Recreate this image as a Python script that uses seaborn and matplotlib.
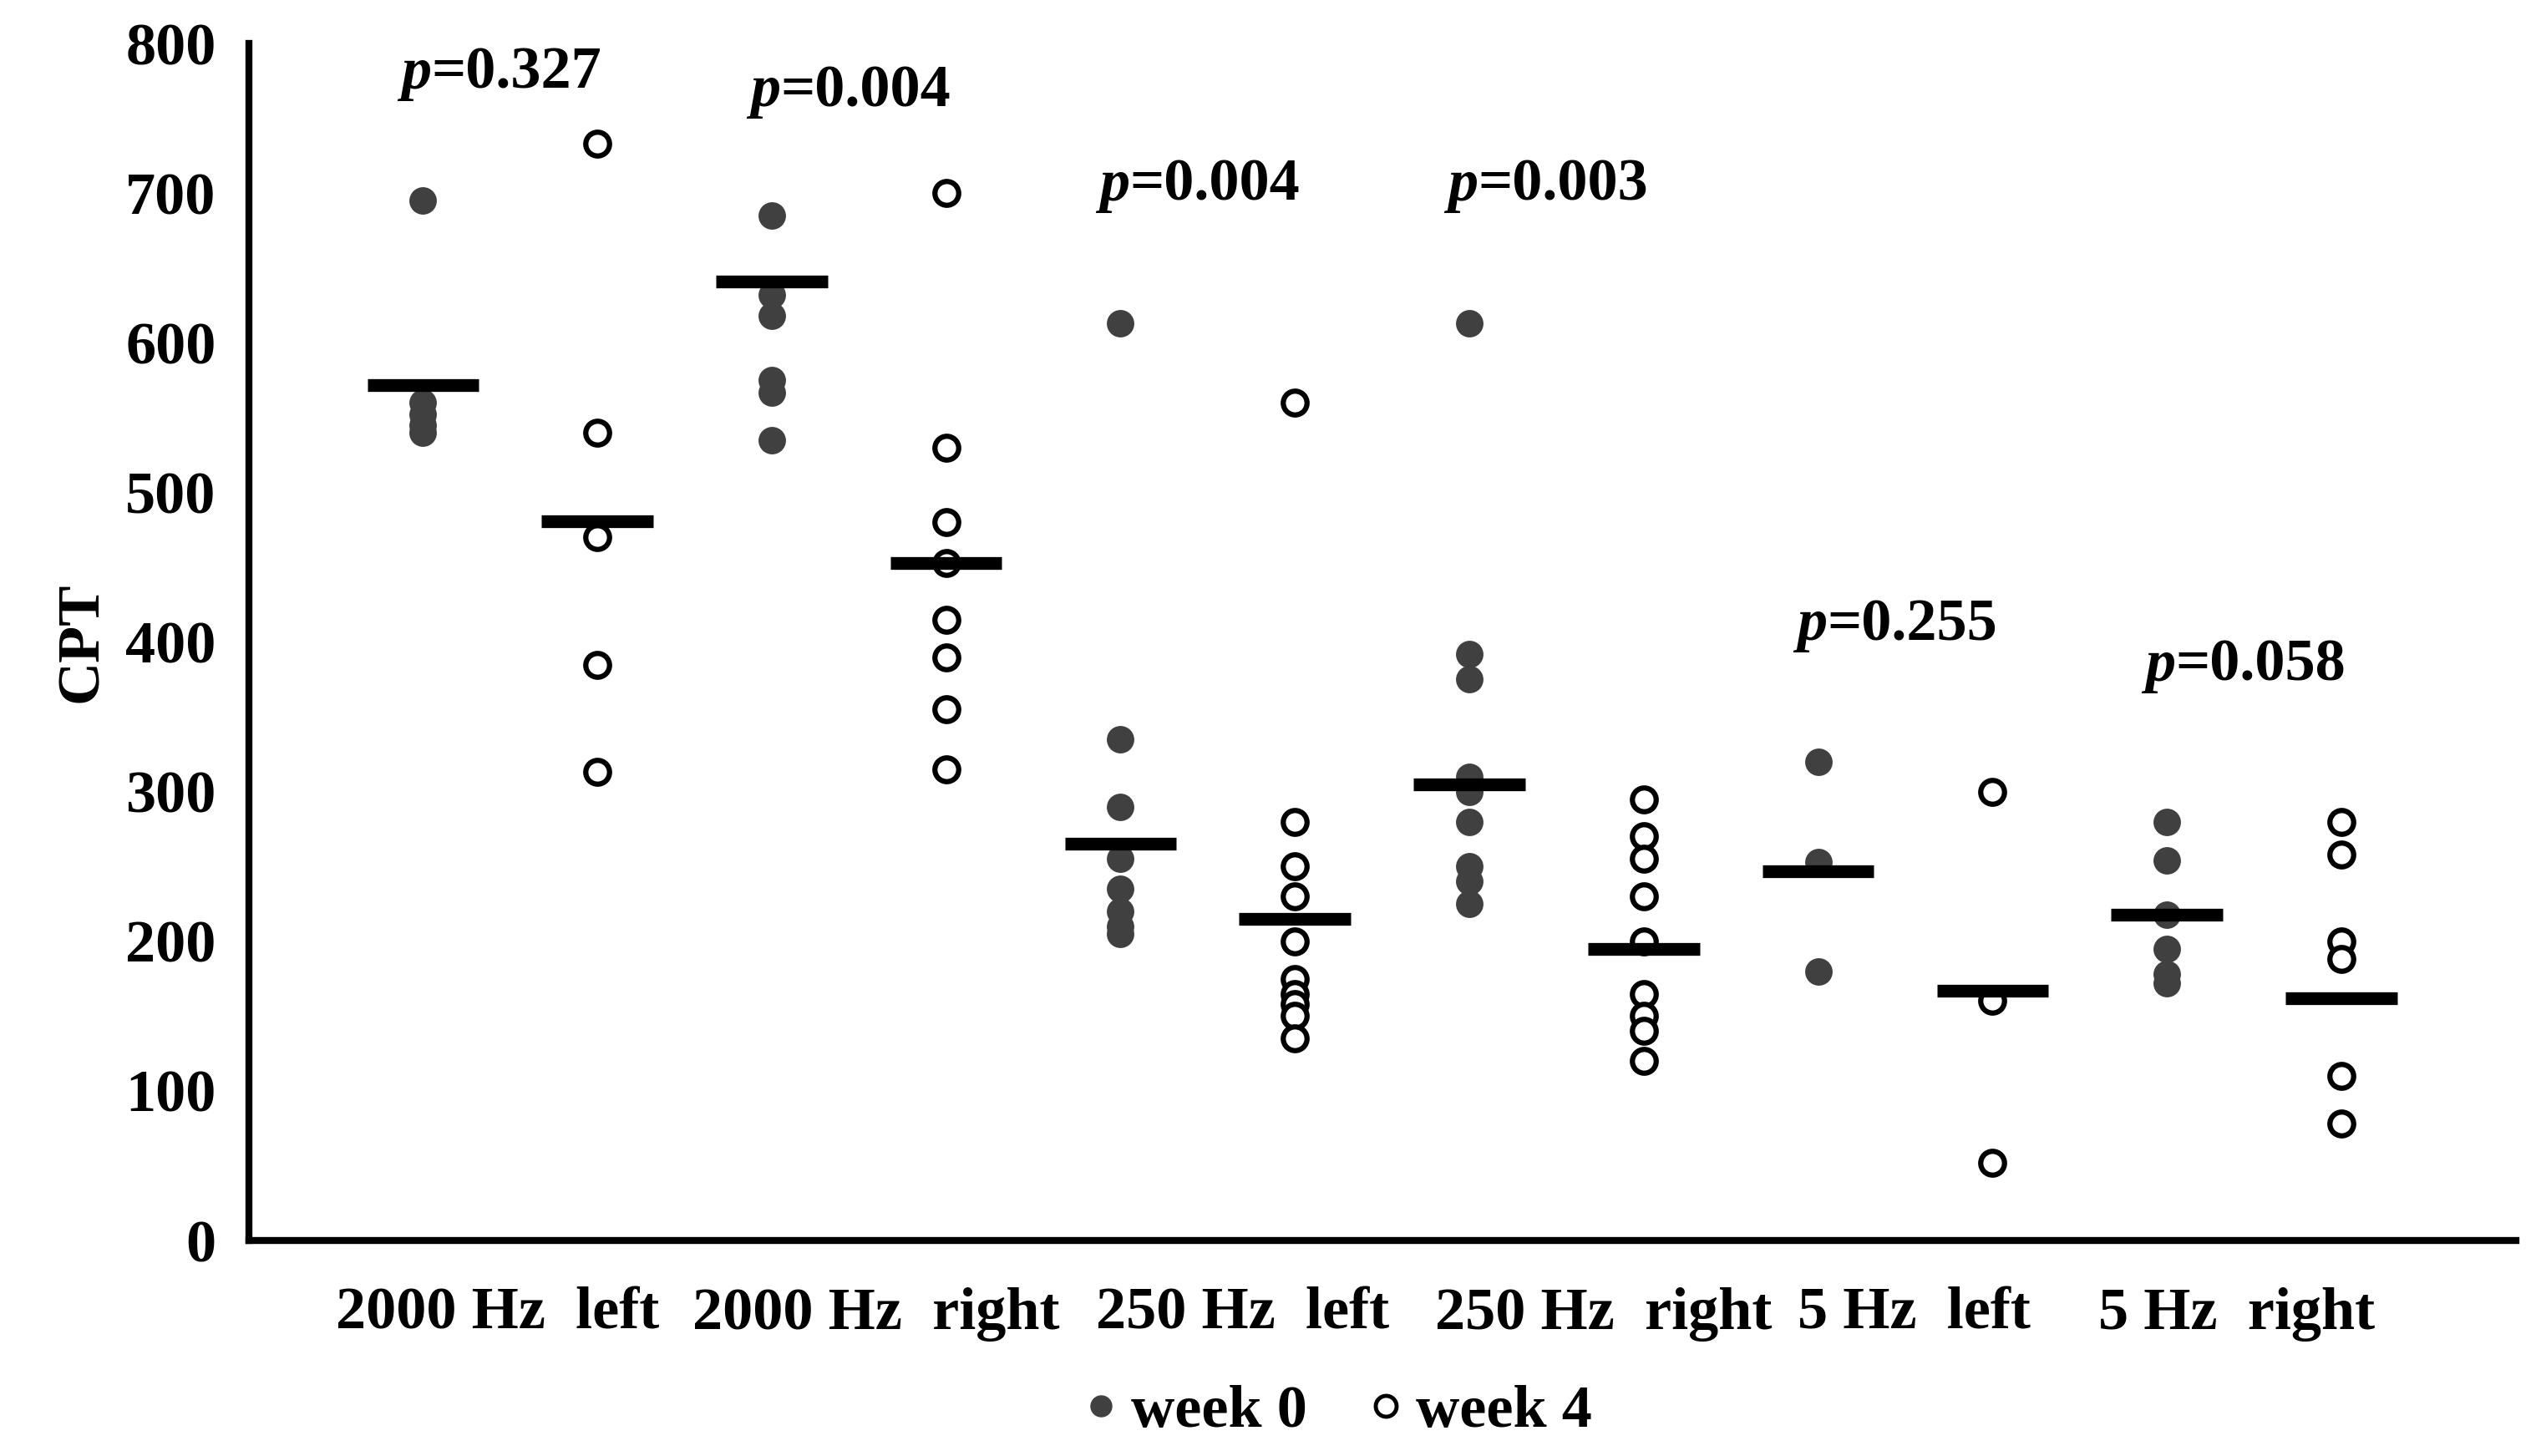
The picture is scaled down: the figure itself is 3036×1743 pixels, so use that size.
import matplotlib
matplotlib.use("Agg")
import matplotlib.pyplot as plt
import seaborn as sns
import pandas as pd
from matplotlib.lines import Line2D

categories = ["2000 Hz  left", "2000 Hz  right", "250 Hz  left", "250 Hz  right", "5 Hz  left", "5 Hz  right"]
p_labels = ["0.327", "0.004", "0.004", "0.003", "0.255", "0.058"]
p_heights = [780, 768, 705, 705, 411, 384]

week0 = [
    [695, 560, 552, 545, 540],
    [685, 632, 618, 575, 567, 535],
    [613, 335, 290, 255, 235, 220, 210, 205],
    [613, 392, 375, 310, 300, 280, 250, 240, 225],
    [320, 253, 180],
    [280, 254, 218, 195, 178, 172],
]
week4 = [
    [733, 540, 470, 385, 313],
    [700, 530, 480, 453, 415, 390, 355, 315],
    [560, 280, 250, 230, 200, 175, 165, 158, 150, 135],
    [295, 270, 255, 230, 200, 165, 150, 140, 120],
    [300, 160, 52],
    [280, 258, 200, 188, 110, 78],
]
center0 = [572, 641, 265, 305, 247, 218]
center4 = [481, 453, 215, 195, 167, 162]

rows = []
for i in range(len(categories)):
    for v in week0[i]:
        rows.append({"pos": 2 * i, "CPT": v, "week": "week 0"})
    for v in week4[i]:
        rows.append({"pos": 2 * i + 1, "CPT": v, "week": "week 4"})
df = pd.DataFrame(rows)

sns.set_style("white")
plt.rcParams["font.family"] = ["Liberation Serif", "DejaVu Serif"]
plt.rcParams["font.weight"] = "bold"
plt.rcParams["text.color"] = "black"
plt.rcParams["axes.labelcolor"] = "black"
plt.rcParams["xtick.color"] = "black"
plt.rcParams["ytick.color"] = "black"

FS = 52

fig = plt.figure(figsize=(30.36, 17.43), dpi=100)
ax = fig.add_axes([0.098, 0.148, 0.894, 0.822])

ms = 560
sns.scatterplot(data=df[df.week == "week 0"], x="pos", y="CPT", s=ms, color="#404040",
                edgecolor="#404040", linewidth=0, ax=ax, legend=False, zorder=3)
sns.scatterplot(data=df[df.week == "week 4"], x="pos", y="CPT", s=ms * 0.75, facecolor="white",
                edgecolor="black", linewidth=4.5, ax=ax, legend=False, zorder=3)

for i in range(len(categories)):
    for j, c in enumerate([center0[i], center4[i]]):
        x = 2 * i + j
        ax.plot([x - 0.32, x + 0.32], [c, c], color="black", lw=11, solid_capstyle="butt", zorder=4)
    ax.text(2 * i + 0.05, p_heights[i], "p", style="italic", fontsize=FS, fontweight="bold",
            ha="right", va="center")
    ax.text(2 * i + 0.05, p_heights[i], "=" + p_labels[i], fontsize=FS, fontweight="bold",
            ha="left", va="center")

ax.set_xlim(-1, 12)
ax.set_ylim(0, 800)
ax.set_yticks(range(0, 801, 100))
ax.set_yticklabels([str(v) for v in range(0, 801, 100)], fontsize=FS, fontweight="bold")
ax.set_xticks([0.43, 2.6, 4.7, 6.77, 8.55, 10.4])
ax.set_xticklabels(categories, fontsize=FS, fontweight="bold")
ax.tick_params(axis="x", length=0, pad=40)
ax.tick_params(axis="y", length=0, pad=28)
ax.set_xlabel("")
ax.set_ylabel("CPT", fontsize=FS, fontweight="bold", labelpad=14)
for s in ["top", "right"]:
    ax.spines[s].set_visible(False)
for s in ["left", "bottom"]:
    ax.spines[s].set_linewidth(6)
    ax.spines[s].set_color("black")

handles = [
    Line2D([], [], marker="o", ls="", markersize=18, markerfacecolor="#404040", markeredgecolor="#404040"),
    Line2D([], [], marker="o", ls="", markersize=18, markerfacecolor="white", markeredgecolor="black", markeredgewidth=3.5),
]
fig.legend(handles, ["week 0", "week 4"], loc="center", bbox_to_anchor=(0.525, 0.03), ncol=2,
           frameon=False, prop={"size": FS, "weight": "bold"}, handletextpad=0.0, columnspacing=0.8,
           handlelength=1.0)

fig.savefig("out.png", dpi=100, facecolor="white")
